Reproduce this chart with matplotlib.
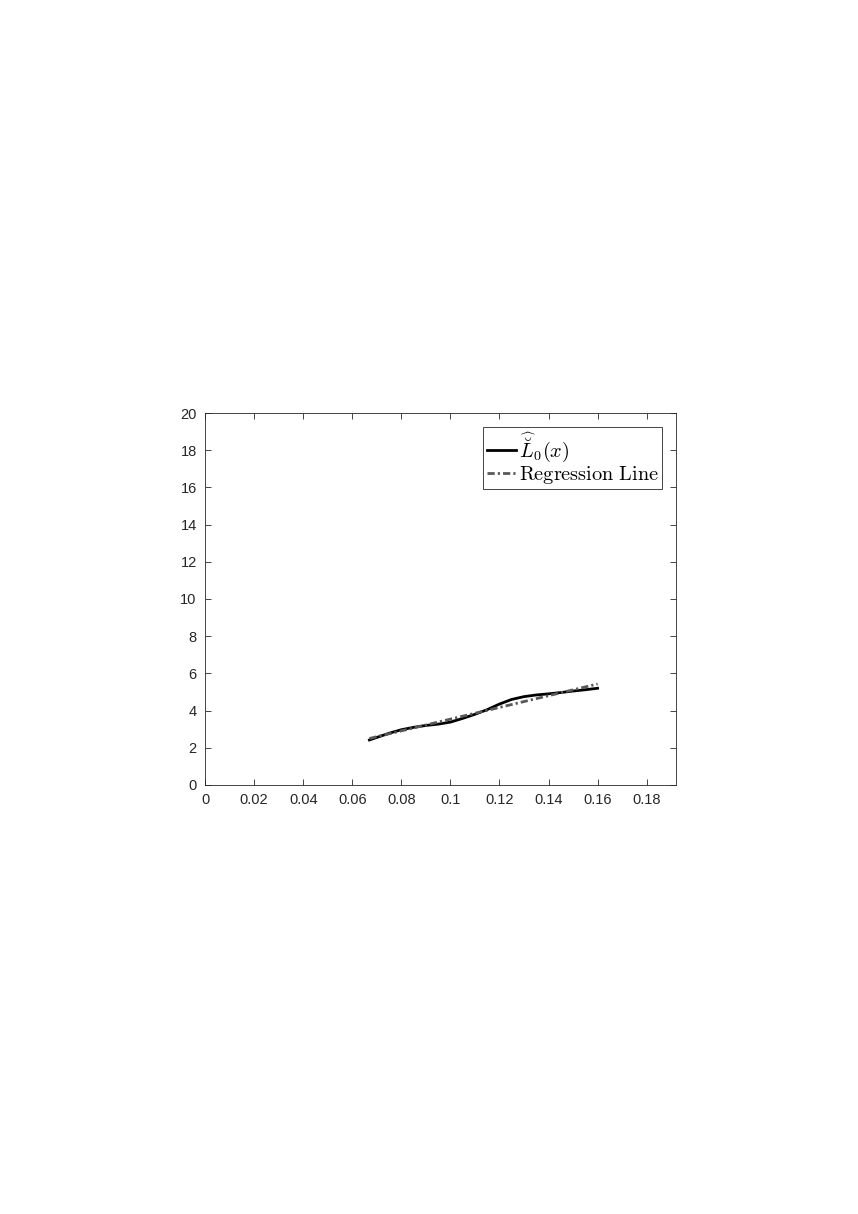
import numpy as np
import matplotlib.pyplot as plt

plt.rcParams['mathtext.fontset'] = 'cm'
plt.rcParams['font.family'] = ['Liberation Sans', 'DejaVu Sans']

# estimated curve
x_est = [0.067, 0.075, 0.08, 0.085, 0.09, 0.095, 0.1, 0.105, 0.11, 0.115,
         0.12, 0.125, 0.13, 0.135, 0.14, 0.145, 0.15, 0.155, 0.16]
y_est = [2.42, 2.78, 2.97, 3.10, 3.20, 3.27, 3.38, 3.58, 3.80, 4.05,
         4.35, 4.60, 4.75, 4.84, 4.90, 4.97, 5.05, 5.12, 5.20]

# regression line end points
x_reg = [0.067, 0.16]
y_reg = [2.50, 5.43]

xticks = [0, 0.02, 0.04, 0.06, 0.08, 0.1, 0.12, 0.14, 0.16, 0.18]
xlabels = ['0', '0.02', '0.04', '0.06', '0.08', '0.1', '0.12', '0.14', '0.16', '0.18']
yticks = list(range(0, 21, 2))

fig = plt.figure(figsize=(8.58, 12.14), dpi=100)
ax = fig.add_axes([0.239, 0.3534, 0.549, 0.3064])

ax.plot(x_est, y_est, color='black', lw=2.0, label=r'$\widehat{\breve{L}}_0(x)$')
ax.plot(x_reg, y_reg, color='0.35', lw=2.0, dashes=(2.6, 1.1, 0.8, 1.1),
        label=r'$\mathrm{Regression\ Line}$')

ax.set_xlim(0, 0.192)
ax.set_ylim(0, 20)
ax.set_xticks(xticks)
ax.set_xticklabels(xlabels)
ax.set_yticks(yticks)
ax.tick_params(direction='in', top=True, right=True, length=4, width=0.6,
               colors='0.15', labelsize=10.5, pad=6)
for s in ax.spines.values():
    s.set_color('0.15')
    s.set_linewidth(0.6)

leg = ax.legend(loc='upper right', fontsize=14.6, handlelength=1.45, handletextpad=0.15,
                borderpad=0.15, labelspacing=0.02, fancybox=False, framealpha=1,
                borderaxespad=0.7)
leg.get_frame().set_edgecolor('0.15')
leg.get_frame().set_linewidth(0.6)

fig.savefig('out.png', dpi=100)
